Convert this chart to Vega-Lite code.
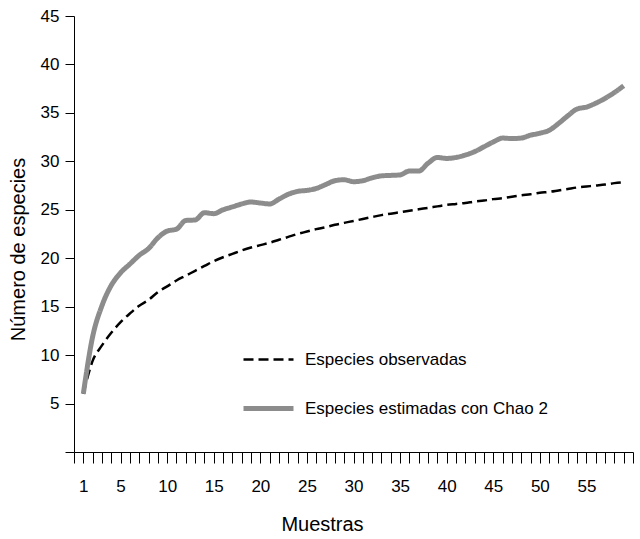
{
  "$schema": "https://vega.github.io/schema/vega-lite/v6.json",
  "autosize": "none",
  "padding": {"left": 74, "top": 16, "right": 7, "bottom": 87},
  "width": 559,
  "height": 436,
  "background": "white",
  "config": {
    "view": {"stroke": null},
    "font": "Liberation Sans",
    "axis": {"grid": false, "domainColor": "#000000", "tickColor": "#000000", "labelColor": "#000000", "titleColor": "#000000", "labelFont": "Liberation Sans", "titleFont": "Liberation Sans", "labelFontSize": 17, "titleFontSize": 20, "titleFontWeight": "normal", "domainWidth": 1, "tickWidth": 1},
    "legend": {"labelLimit": 0}
  },
  "datasets": {
    "obs": [
      {"m":1,"v":6.0},{"m":2,"v":9.4},{"m":3,"v":11.0},{"m":4,"v":12.3},{"m":5,"v":13.4},{"m":6,"v":14.3},{"m":7,"v":15.1},{"m":8,"v":15.7},{"m":9,"v":16.5},{"m":10,"v":17.1},
      {"m":11,"v":17.7},{"m":12,"v":18.2},{"m":13,"v":18.7},{"m":14,"v":19.2},{"m":15,"v":19.7},{"m":16,"v":20.1},{"m":17,"v":20.45},{"m":18,"v":20.8},{"m":19,"v":21.1},{"m":20,"v":21.35},
      {"m":21,"v":21.6},{"m":22,"v":21.9},{"m":23,"v":22.2},{"m":24,"v":22.5},{"m":25,"v":22.75},{"m":26,"v":23.0},{"m":27,"v":23.2},{"m":28,"v":23.45},{"m":29,"v":23.65},{"m":30,"v":23.85},
      {"m":31,"v":24.05},{"m":32,"v":24.25},{"m":33,"v":24.45},{"m":34,"v":24.6},{"m":35,"v":24.75},{"m":36,"v":24.9},{"m":37,"v":25.05},{"m":38,"v":25.2},{"m":39,"v":25.35},{"m":40,"v":25.5},
      {"m":41,"v":25.6},{"m":42,"v":25.7},{"m":43,"v":25.85},{"m":44,"v":25.95},{"m":45,"v":26.1},{"m":46,"v":26.2},{"m":47,"v":26.35},{"m":48,"v":26.5},{"m":49,"v":26.6},{"m":50,"v":26.75},
      {"m":51,"v":26.85},{"m":52,"v":27.0},{"m":53,"v":27.15},{"m":54,"v":27.3},{"m":55,"v":27.4},{"m":56,"v":27.5},{"m":57,"v":27.6},{"m":58,"v":27.75},{"m":59,"v":27.85}
    ],
    "chao": [
      {"m":1,"v":6.0},{"m":2,"v":11.9},{"m":3,"v":15.1},{"m":4,"v":17.2},{"m":5,"v":18.5},{"m":6,"v":19.4},{"m":7,"v":20.3},{"m":8,"v":21.0},{"m":9,"v":22.1},{"m":10,"v":22.8},
      {"m":11,"v":23.0},{"m":12,"v":23.9},{"m":13,"v":23.95},{"m":14,"v":24.7},{"m":15,"v":24.6},{"m":16,"v":25.0},{"m":17,"v":25.3},{"m":18,"v":25.6},{"m":19,"v":25.8},{"m":20,"v":25.7},
      {"m":21,"v":25.6},{"m":22,"v":26.1},{"m":23,"v":26.6},{"m":24,"v":26.9},{"m":25,"v":27.0},{"m":26,"v":27.2},{"m":27,"v":27.6},{"m":28,"v":28.0},{"m":29,"v":28.1},{"m":30,"v":27.9},
      {"m":31,"v":28.0},{"m":32,"v":28.3},{"m":33,"v":28.5},{"m":34,"v":28.55},{"m":35,"v":28.6},{"m":36,"v":29.0},{"m":37,"v":29.0},{"m":38,"v":29.8},{"m":39,"v":30.4},{"m":40,"v":30.3},
      {"m":41,"v":30.4},{"m":42,"v":30.65},{"m":43,"v":31.0},{"m":44,"v":31.5},{"m":45,"v":32.0},{"m":46,"v":32.4},{"m":47,"v":32.35},{"m":48,"v":32.4},{"m":49,"v":32.7},{"m":50,"v":32.9},
      {"m":51,"v":33.2},{"m":52,"v":33.9},{"m":53,"v":34.7},{"m":54,"v":35.4},{"m":55,"v":35.6},{"m":56,"v":36.0},{"m":57,"v":36.5},{"m":58,"v":37.1},{"m":59,"v":37.8}
    ]
  },
  "encoding": {
    "x": {
      "field": "m", "type": "quantitative",
      "scale": {"domain": [0, 60], "nice": false, "zero": false},
      "axis": {
        "title": "Muestras",
        "values": [0,1,2,3,4,5,6,7,8,9,10,11,12,13,14,15,16,17,18,19,20,21,22,23,24,25,26,27,28,29,30,31,32,33,34,35,36,37,38,39,40,41,42,43,44,45,46,47,48,49,50,51,52,53,54,55,56,57,58,59,60],
        "labelExpr": "indexof([1,5,10,15,20,25,30,35,40,45,50,55], datum.value) >= 0 ? datum.label : ''",
        "tickSize": 11,
        "labelPadding": 15,
        "labelFlush": false,
        "labelOverlap": false,
        "titlePadding": 20,
        "titleX": 248,
        "encode": {"ticks": {"update": {"y2": {"signal": "indexof([1,5,10,15,20,25,30,35,40,45,50,55], datum.value) >= 0 ? 16 : 11"}}}}
      }
    },
    "y": {
      "field": "v", "type": "quantitative",
      "scale": {"domain": [0, 45], "nice": false},
      "axis": {
        "title": "Número de especies",
        "values": [0,5,10,15,20,25,30,35,40,45],
        "labelExpr": "datum.value == 0 ? '' : datum.label",
        "tickSize": 9,
        "labelPadding": 6,
        "titlePadding": 12,
        "titleY": 233
      }
    },
    "color": {
      "type": "nominal",
      "scale": {"domain": ["Especies observadas", "Especies estimadas con Chao 2"], "range": ["#000000", "#8c8c8c"]},
      "legend": {
        "title": null, "orient": "none", "legendX": 167, "legendY": 317,
        "symbolType": "stroke", "symbolSize": 2500, "labelFontSize": 17, "labelFont": "Liberation Sans",
        "labelColor": "#000000", "labelOffset": 9, "rowPadding": 13, "padding": 0, "labelLimit": 0
      }
    },
    "strokeDash": {
      "type": "nominal",
      "scale": {"domain": ["Especies observadas", "Especies estimadas con Chao 2"], "range": [[10, 5], [1, 0]]},
      "legend": {
        "title": null, "orient": "none", "legendX": 167, "legendY": 317,
        "symbolType": "stroke", "symbolSize": 2500, "labelFontSize": 17, "labelFont": "Liberation Sans",
        "labelColor": "#000000", "labelOffset": 9, "rowPadding": 13, "padding": 0, "labelLimit": 0
      }
    },
    "strokeWidth": {
      "type": "nominal",
      "scale": {"domain": ["Especies observadas", "Especies estimadas con Chao 2"], "range": [2.5, 5]},
      "legend": {
        "title": null, "orient": "none", "legendX": 167, "legendY": 317,
        "symbolType": "stroke", "symbolSize": 2500, "labelFontSize": 17, "labelFont": "Liberation Sans",
        "labelColor": "#000000", "labelOffset": 9, "rowPadding": 13, "padding": 0, "labelLimit": 0
      }
    }
  },
  "layer": [
    {
      "data": {"name": "obs"},
      "mark": {"type": "line", "interpolate": "monotone"},
      "encoding": {
        "color": {"datum": "Especies observadas"},
        "strokeDash": {"datum": "Especies observadas"},
        "strokeWidth": {"datum": "Especies observadas"}
      }
    },
    {
      "data": {"name": "chao"},
      "mark": {"type": "line", "interpolate": "monotone"},
      "encoding": {
        "color": {"datum": "Especies estimadas con Chao 2"},
        "strokeDash": {"datum": "Especies estimadas con Chao 2"},
        "strokeWidth": {"datum": "Especies estimadas con Chao 2"}
      }
    }
  ]
}
